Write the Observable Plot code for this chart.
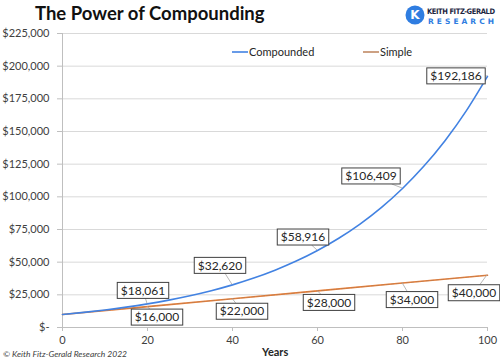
<!DOCTYPE html>
<html>
<head>
<meta charset="utf-8">
<script src="https://cdn.jsdelivr.net/npm/d3@7"></script>
<script src="https://cdn.jsdelivr.net/npm/@observablehq/plot@0.6"></script>
<style>
  body { margin: 0; background: #fff; }
  #wrap { position: relative; width: 500px; height: 361px; font-family: Lato, "Open Sans", sans-serif; overflow: hidden; }
  #wrap svg.plot { position: absolute; left: 0; top: 0; }
  .ov { position: absolute; white-space: nowrap; color: #262626; }
  #title { left: 35px; top: 2px; font-size: 18.5px; font-weight: 700; color: #111; }
  #years { left: 262px; top: 345px; font-size: 11px; font-weight: 700; }
  #copy { left: 3px; top: 349px; font-size: 8.5px; font-style: italic; color: #404040; }
  .leg { position: absolute; top: 45px; font-size: 11px; color: #262626; display: flex; align-items: center; }
  .leg svg { margin-right: 1px; }
  #logo { position: absolute; left: 404px; top: 2px; }
</style>
</head>
<body>
<div id="wrap"></div>
<script>
// ---- data ----
const years = [0, 5, 10, 15, 20, 25, 30, 35, 40, 45, 50, 55, 60, 65, 70, 75, 80, 85, 90, 95, 100];
const compounded = [10000, 11593, 13439, 15580, 18061, 20938, 24273, 28139, 32620, 37816, 43839,
                    50821, 58916, 68300, 79178, 91789, 106409, 123357, 143005, 165782, 192186];
const simpleYears = [0, 20, 40, 60, 80, 100];
const simpleValues = [10000, 16000, 22000, 28000, 34000, 40000];
const labelYears = [20, 40, 60, 80, 100];
const compoundedLabels = [18061, 32620, 58916, 106409, 192186];
const simpleLabels = [16000, 22000, 28000, 34000, 40000];
const yTicks = [0, 25000, 50000, 75000, 100000, 125000, 150000, 175000, 200000, 225000];
const xTicks = [0, 20, 40, 60, 80, 100];
const seriesNames = ["Compounded", "Simple"];

// ---- layout (pixel offsets of the data-label boxes from their points) ----
const compOffsets = [[-4, -13], [-12, -19], [-14, -13], [-31, -12], [-31, 0]];
const simpleOffsets = [[10, 11], [10, 13], [12, 12], [10, 17], [-13, 18]];

const blue = "#4282e2", orange = "#ed7d31";
const fmtMoney = d => d === 0 ? "$-" : "$" + d3.format(",")(d);

const ctx = document.createElement("canvas").getContext("2d");
const labelFont = "12px Lato";

function dataLabels(xs, vs, offsets) {
  return (index, scales) => {
    const g = d3.create("svg:g");
    xs.forEach((x, i) => {
      const px = scales.x(x), py = scales.y(vs[i]);
      const cx = px + offsets[i][0], cy = py + offsets[i][1];
      const txt = fmtMoney(vs[i]);
      ctx.font = labelFont;
      const w = ctx.measureText(txt).width + 7, h = 16;
      const hw = w / 2, hh = h / 2;
      const vx = px - cx, vy = py - cy;
      const s = Math.min(vx ? hw / Math.abs(vx) : Infinity, vy ? hh / Math.abs(vy) : Infinity);
      if (s < 1) {
        g.append("line")
          .attr("x1", cx + vx * s).attr("y1", cy + vy * s)
          .attr("x2", px).attr("y2", py)
          .attr("stroke", "#a6a6a6").attr("stroke-width", 0.8);
      }
      g.append("rect")
        .attr("x", cx - hw).attr("y", cy - hh).attr("width", w).attr("height", h)
        .attr("fill", "#fff").attr("stroke", "#404040").attr("stroke-width", 1);
      g.append("text")
        .attr("x", cx).attr("y", cy).attr("dy", "0.35em")
        .attr("text-anchor", "middle")
        .attr("font-family", "Lato").attr("font-size", 12).attr("fill", "#262626")
        .text(txt);
    });
    return g.node();
  };
}

const compData = years.map((t, i) => ({t, v: compounded[i]}));
const simpleData = simpleYears.map((t, i) => ({t, v: simpleValues[i]}));

const chart = Plot.plot({
  width: 500,
  height: 361,
  marginTop: 33,
  marginBottom: 34,
  marginLeft: 62,
  marginRight: 13,
  style: {fontFamily: "Lato, sans-serif", fontSize: "11px", color: "#404040", background: "transparent"},
  x: {domain: [0, 100]},
  y: {domain: [0, 225000]},
  marks: [
    Plot.ruleY(yTicks.filter(d => d > 0), {stroke: "#d9d9d9", strokeWidth: 1}),
    Plot.ruleY([0], {stroke: "#bfbfbf"}),
    Plot.ruleX([0], {y1: 0, y2: 225000, stroke: "#bfbfbf"}),
    Plot.axisY(yTicks, {tickFormat: fmtMoney, tickSize: 5, tickPadding: 8, stroke: "#bfbfbf", fill: "#404040", fontSize: 11, label: null}),
    Plot.axisX(xTicks, {tickSize: 4, tickPadding: 5, stroke: "#bfbfbf", fill: "#404040", fontSize: 11, label: null}),
    Plot.line(simpleData, {x: "t", y: "v", stroke: orange, strokeWidth: 1.6}),
    Plot.line(simpleData, {x: "t", y: "v", stroke: "#7f7f7f", strokeWidth: 0.7, strokeDasharray: "3,2", strokeOpacity: 0.55}),
    Plot.line(compData, {x: "t", y: "v", stroke: blue, strokeWidth: 1.6, curve: "natural"}),
    dataLabels(labelYears, compoundedLabels, compOffsets),
    dataLabels(labelYears, simpleLabels, simpleOffsets)
  ]
});
chart.classList.add("plot");

const wrap = document.getElementById("wrap");
wrap.appendChild(chart);

function addDiv(id, cls, text) {
  const d = document.createElement("div");
  if (id) d.id = id;
  d.className = cls;
  d.textContent = text;
  wrap.appendChild(d);
  return d;
}
addDiv("title", "ov", "The Power of Compounding");
addDiv("years", "ov", "Years");
addDiv("copy", "ov", "© Keith Fitz-Gerald Research 2022");

const legendPos = [232, 363];
const legendColors = [blue, "#c08a64"];
seriesNames.forEach((name, i) => {
  const d = document.createElement("div");
  d.className = "leg";
  d.style.left = legendPos[i] + "px";
  const sw = d3.create("svg").attr("width", 16).attr("height", 6);
  sw.append("line").attr("x1", 0).attr("x2", 16).attr("y1", 3).attr("y2", 3)
    .attr("stroke", legendColors[i]).attr("stroke-width", 1.6);
  d.appendChild(sw.node());
  d.appendChild(document.createTextNode(name));
  wrap.appendChild(d);
});

// logo
const logo = d3.create("svg").attr("id", "logo").attr("width", 92).attr("height", 30);
logo.append("circle").attr("cx", 11).attr("cy", 13).attr("r", 9.5).attr("fill", "#2f7de1");
logo.append("text").attr("x", 11).attr("y", 13).attr("dy", "0.36em").attr("text-anchor", "middle")
  .attr("font-family", "DejaVu Sans").attr("font-weight", 700).attr("font-size", 12).attr("fill", "#fff").text("K");
logo.append("text").attr("x", 23).attr("y", 12)
  .attr("font-family", "DejaVu Sans Condensed, DejaVu Sans").attr("font-weight", 700).attr("font-size", 7.5)
  .attr("fill", "#1c2541").attr("textLength", 68).text("KEITH FITZ-GERALD");
logo.append("text").attr("x", 24).attr("y", 22)
  .attr("font-family", "DejaVu Sans").attr("font-weight", 700).attr("font-size", 7.5)
  .attr("fill", "#2f7de1").attr("textLength", 66).text("RESEARCH");
wrap.appendChild(logo.node());
</script>
</body>
</html>
